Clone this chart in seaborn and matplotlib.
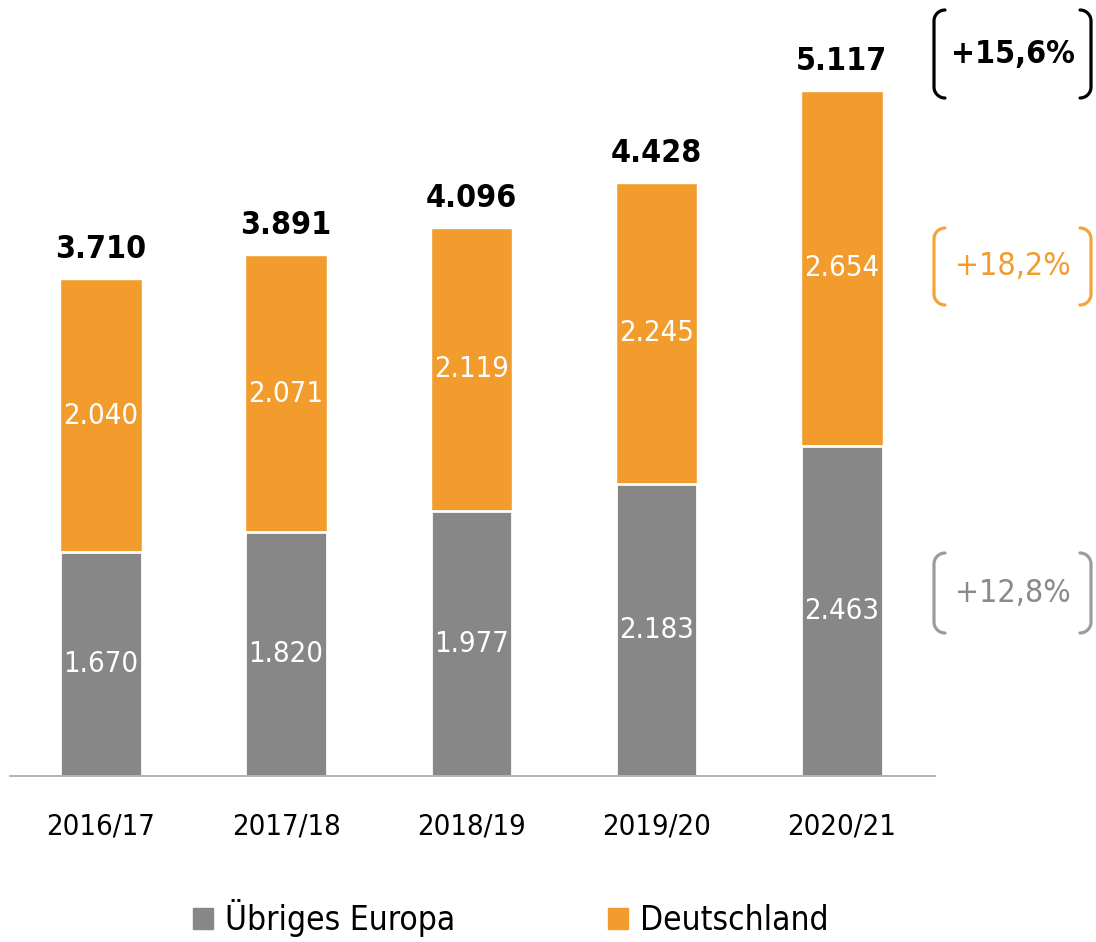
import numpy as np
import pandas as pd
import matplotlib
matplotlib.use("Agg")
import matplotlib.pyplot as plt
from matplotlib.lines import Line2D
from matplotlib.patches import Patch
import seaborn as sns

# data
years = ["2016/17", "2017/18", "2018/19", "2019/20", "2020/21"]
europa = [1670, 1820, 1977, 2183, 2463]
deutschland = [2040, 2071, 2119, 2245, 2654]
totals = [3710, 3891, 4096, 4428, 5117]

ORANGE = "#F39C2E"
GRAY = "#878787"


def de_num(v):
    return f"{v:,}".replace(",", ".")


def growth(a, b):
    return "+" + f"{(b / a - 1) * 100:.1f}".replace(".", ",") + "%"


df = pd.DataFrame({"year": years, "europa": europa, "deutschland": deutschland, "total": totals})

sns.set_theme(style="white")
plt.rcParams["font.family"] = ["DejaVu Sans"]
plt.rcParams["font.stretch"] = "condensed"
plt.rcParams["text.color"] = "black"

fig = plt.figure(figsize=(10.96, 9.42), dpi=100)
ax = fig.add_axes([10 / 1096, 166 / 942, 925 / 1096, 776 / 942])

# stacked bars: full height orange, grey part on top of it
sns.barplot(data=df, x="year", y="total", color=ORANGE, saturation=1, width=0.44, ax=ax)
sns.barplot(data=df, x="year", y="europa", color=GRAY, saturation=1, width=0.44,
            edgecolor="white", linewidth=2, ax=ax)

ax.set_xlim(-0.49, 4.503)
ax.set_ylim(0, 5795)
ax.set_xlabel("")
ax.set_ylabel("")
ax.set_yticks([])
for s in ["top", "left", "right"]:
    ax.spines[s].set_visible(False)
ax.spines["bottom"].set_color("#a6a6a6")
ax.spines["bottom"].set_linewidth(1.2)
ax.tick_params(axis="x", length=0, pad=26, labelsize=21, labelcolor="black")

for i in range(len(years)):
    ax.text(i, europa[i] / 2, de_num(europa[i]), ha="center", va="center",
            color="white", fontsize=21)
    ax.text(i, europa[i] + deutschland[i] / 2, de_num(deutschland[i]), ha="center",
            va="center", color="white", fontsize=21)
    ax.annotate(de_num(totals[i]), (i, totals[i]), xytext=(0, 15), textcoords="offset points",
                ha="center", va="baseline", fontsize=23, fontweight="bold", color="black")


# growth brackets on the right (pixel positions)
def px(x, y):
    return x / 1096, 1 - y / 942


def bracket(x, direction, y_top, y_bot, color, r=11):
    t = np.linspace(0, np.pi / 2, 20)
    xs, ys = [], []
    for a in t[::-1]:
        xs.append(x + direction * r * (1 - np.cos(a)))
        ys.append(y_top + r * (1 - np.sin(a)))
    xs += [x, x]
    ys += [y_top + r, y_bot - r]
    for a in t:
        xs.append(x + direction * r * (1 - np.cos(a)))
        ys.append(y_bot - r * (1 - np.sin(a)))
    pts = [px(a, b) for a, b in zip(xs, ys)]
    fig.add_artist(Line2D([p[0] for p in pts], [p[1] for p in pts], transform=fig.transFigure,
                          color=color, lw=2.3, solid_capstyle="round"))


labels = [growth(totals[3], totals[4]), growth(deutschland[3], deutschland[4]),
          growth(europa[3], europa[4])]
specs = [(10, 98, "black", "black", "bold"),
         (228, 305, "#F5A43A", "#F39C2E", "normal"),
         (553, 633, "#9c9c9c", "#8a8a8a", "normal")]
for lab, (yt, yb, bcol, tcol, w) in zip(labels, specs):
    bracket(934, 1, yt, yb, bcol)
    bracket(1091, -1, yt, yb, bcol)
    fx, fy = px(1013, (yt + yb) / 2)
    fig.text(fx, fy, lab, ha="center", va="center", fontsize=23, fontweight=w, color=tcol)

handles = [Patch(color=GRAY), Patch(color=ORANGE)]
leg = fig.legend(handles, ["Übriges Europa", "Deutschland"], loc="center",
                 bbox_to_anchor=(0.466, 1 - 918 / 942), ncol=2, frameon=False, fontsize=24,
                 handlelength=0.6, handleheight=0.6, handletextpad=0.35, columnspacing=4.6,
                 borderpad=0)
for t in leg.get_texts():
    t.set_color("black")

fig.savefig("out.png", dpi=100)
